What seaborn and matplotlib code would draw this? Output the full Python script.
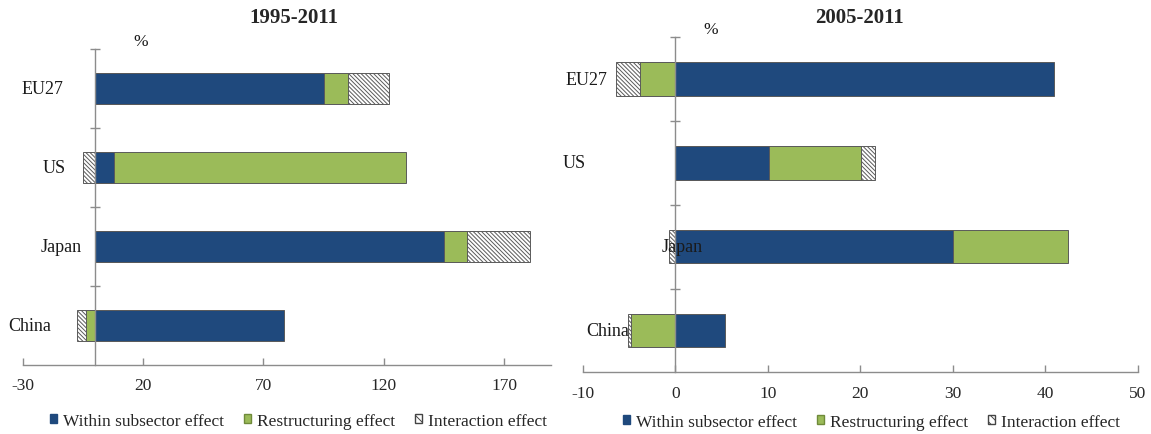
import matplotlib
matplotlib.use("Agg")
import matplotlib.pyplot as plt
import matplotlib.patches as mpatches
import numpy as np
import pandas as pd
import seaborn as sns

# ---------------- data ----------------
regions = ["EU27", "US", "Japan", "China"]
series_names = ["Within subsector effect", "Restructuring effect", "Interaction effect"]

within_95 = [95.3, 8.0, 145.2, 78.7]
restruct_95 = [10.0, 121.3, 9.2, -3.8]
interact_95 = [16.8, -5.0, 26.3, -3.8]

within_05 = [41.0, 10.1, 30.0, 5.4]
restruct_05 = [-3.8, 10.0, 12.5, -4.8]
interact_05 = [-2.6, 1.5, -0.7, -0.3]

xticks_95 = [-30, 20, 70, 120, 170]
xticks_05 = [-10, 0, 10, 20, 30, 40, 50]

# ---------------- style ----------------
sns.set_theme(style="white")
plt.rcParams["font.family"] = ["Liberation Serif", "DejaVu Serif"]
plt.rcParams["hatch.linewidth"] = 0.7

BLUE = "#1F497D"
GREEN = "#9BBB59"
HATCH_BG = "white"
EDGE = "#5a5a5a"
SPINE = "#8c8c8c"
HATCH = "\\" * 8
colors = [BLUE, GREEN, HATCH_BG]
hatches = [None, None, HATCH]
FS = 12.5

W, H = 1151, 435
fig = plt.figure(figsize=(W / 100, H / 100), dpi=100)
ax1 = fig.add_axes([22.9 / W, 1 - 366 / H, 527.8 / W, 316 / H])
ax2 = fig.add_axes([583 / W, 1 - 373.3 / H, 554.6 / W, 335 / H])


def stacked_ends(series_list):
    """cumulative stacked ends, positives and negatives stacked separately"""
    arr = np.array(series_list, dtype=float)
    ends = np.zeros_like(arr)
    pos = np.zeros(arr.shape[1])
    neg = np.zeros(arr.shape[1])
    for k in range(arr.shape[0]):
        v = arr[k]
        pos_new = pos + np.where(v > 0, v, 0)
        neg_new = neg + np.where(v < 0, v, 0)
        ends[k] = np.where(v >= 0, pos_new, neg_new)
        pos, neg = pos_new, neg_new
    return ends


def draw_panel(ax, series, xlim, xticks, label_x, pct_x):
    ends = stacked_ends(series)
    # draw outermost first so inner segments cover
    for k in reversed(range(len(series))):
        df = pd.DataFrame({"region": regions, "value": ends[k]})
        sns.barplot(data=df, x="value", y="region", order=regions, orient="h",
                    color=colors[k], saturation=1, width=0.4, ax=ax,
                    edgecolor=EDGE, linewidth=0.7, hatch=hatches[k],
                    errorbar=None)
    ax.set_xlim(*xlim)
    ax.set_ylim(3.5, -0.5)
    ax.set_xlabel("")
    ax.set_ylabel("")
    ax.set_xticks(xticks)
    ax.set_xticklabels([str(t) for t in xticks], fontsize=FS)
    ax.set_yticks([-0.5, 0.5, 1.5, 2.5])
    ax.set_yticklabels([])
    for s in ["top", "right"]:
        ax.spines[s].set_visible(False)
    ax.spines["left"].set_position(("data", 0))
    ax.spines["left"].set_color(SPINE)
    ax.spines["bottom"].set_color(SPINE)
    ax.spines["left"].set_linewidth(1.0)
    ax.spines["bottom"].set_linewidth(1.0)
    ax.tick_params(axis="x", direction="in", length=5, width=1.0, color=SPINE,
                   pad=9, bottom=True)
    ax.tick_params(axis="y", direction="inout", length=7, width=1.0, color=SPINE,
                   left=True)
    for i, r in enumerate(regions):
        ax.text(label_x[i], i, r, ha="right", va="center", fontsize=13,
                color="#1a1a1a")
    ax.text(pct_x, -0.5, "%", ha="left", va="bottom", fontsize=FS,
            color="#1a1a1a")
    ax.patch.set_alpha(0)


draw_panel(ax1, [within_95, restruct_95, interact_95], (-30, 189.4), xticks_95,
           [-13.3, -12.1, -5.7, -18.4], 16)
draw_panel(ax2, [within_05, restruct_05, interact_05], (-10, 50), xticks_05,
           [-7.4, -9.7, 3.0, -5.0], 3.0)

fig.text(293.5 / W, 1 - 18 / H, "1995-2011", ha="center", va="center",
         fontsize=15, fontweight="bold")
fig.text(859 / W, 1 - 18 / H, "2005-2011", ha="center", va="center",
         fontsize=15, fontweight="bold")

handles = [
    mpatches.Patch(facecolor=BLUE, edgecolor=BLUE, label=series_names[0]),
    mpatches.Patch(facecolor=GREEN, edgecolor="#6f8a3a", label=series_names[1]),
    mpatches.Patch(facecolor="white", edgecolor="#444444", hatch="\\" * 4,
                   label=series_names[2]),
]
for lx, cy in [(50 / W, 1 - 421.7 / H), (623 / W, 1 - 423 / H)]:
    fig.legend(handles=handles, loc="center left", bbox_to_anchor=(lx, cy),
               ncol=3, frameon=False, fontsize=FS, handlelength=0.4,
               handleheight=0.4, handletextpad=0.35, columnspacing=1.15,
               borderpad=0, borderaxespad=0)

fig.savefig("out.png", dpi=100)
